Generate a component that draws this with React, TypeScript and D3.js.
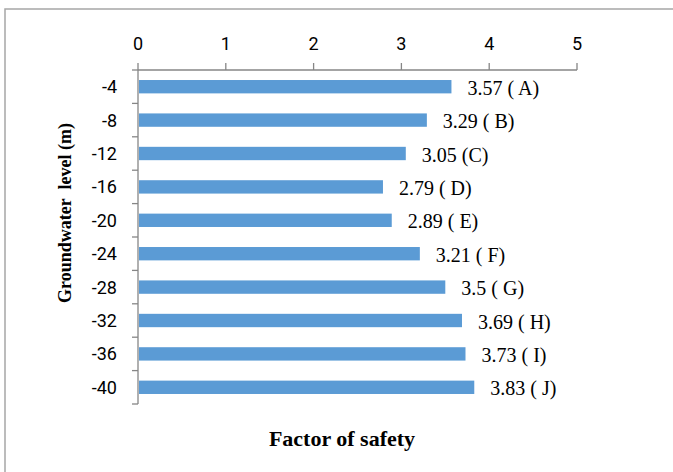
import { useEffect } from 'react';
import * as d3 from 'd3';

const levels = ['-4', '-8', '-12', '-16', '-20', '-24', '-28', '-32', '-36', '-40'];
const factors = [3.57, 3.29, 3.05, 2.79, 2.89, 3.21, 3.5, 3.69, 3.73, 3.83];
const barLabels = ['3.57 ( A)', '3.29 ( B)', '3.05 (C)', '2.79 ( D)', '2.89 ( E)', '3.21 ( F)', '3.5 ( G)', '3.69 ( H)', '3.73 ( I)', '3.83 ( J)'];
const xTicks = [0, 1, 2, 3, 4, 5];

const W = 673;
const H = 472;
const left = 138, right = 577, top = 70, bottom = 404;
const tickFont = 'Roboto, "Liberation Sans", sans-serif';
const serif = '"Liberation Serif", "Times New Roman", serif';

export default function App() {
  useEffect(() => {
    document.body.style.margin = '0';
  }, []);

  const x = d3.scaleLinear().domain([0, 5]).range([left, right]);
  const y = d3.scaleBand<string>().domain(levels).range([top, bottom]).paddingInner(0.6).paddingOuter(0.3);
  const step = (bottom - top) / levels.length;
  const axisColor = '#868686';

  return (
    <svg width={W} height={H} style={{ display: 'block', background: '#fff' }}>
      <rect x={5} y={9} width={W + 10} height={H + 10} fill="#fff" stroke="#a6a6a6" strokeWidth={1.5} />

      {/* top x axis */}
      <line x1={left} x2={right} y1={top} y2={top} stroke={axisColor} strokeWidth={1.3} />
      {xTicks.map(t => (
        <g key={t}>
          <line x1={x(t)} x2={x(t)} y1={top - 7} y2={top} stroke={axisColor} strokeWidth={1.3} />
          <text x={x(t)} y={50} textAnchor="middle" fontFamily={tickFont} fontSize={18} fill="#000">{t}</text>
        </g>
      ))}

      {/* left y axis */}
      <line x1={left} x2={left} y1={top} y2={bottom} stroke={axisColor} strokeWidth={1.3} />
      {d3.range(levels.length + 1).map(i => (
        <line key={i} x1={left - 6} x2={left} y1={top + i * step} y2={top + i * step} stroke={axisColor} strokeWidth={1.3} />
      ))}
      {levels.map(l => (
        <text key={l} x={117} y={(y(l) ?? 0) + y.bandwidth() / 2} dy="0.36em" textAnchor="end" fontFamily={tickFont} fontSize={18} fill="#000">{l}</text>
      ))}

      {/* bars */}
      {levels.map((l, i) => (
        <g key={l}>
          <rect x={x(0) + 1} y={y(l)} width={x(factors[i]) - x(0) - 1} height={y.bandwidth()} fill="#5b9bd5" />
          <text x={x(factors[i]) + 16} y={(y(l) ?? 0) + y.bandwidth() / 2} dy="0.4em" fontFamily={serif} fontSize={20} fill="#000">{barLabels[i]}</text>
        </g>
      ))}

      <text x={342} y={446} textAnchor="middle" fontFamily={serif} fontSize={22} fontWeight="bold" fill="#000">Factor of safety</text>
      <text transform={`translate(71,${213}) rotate(-90)`} textAnchor="middle" fontFamily={serif} fontSize={18} fontWeight="bold" fill="#000" style={{ whiteSpace: 'pre' }}>Groundwater  level (m)</text>
    </svg>
  );
}
